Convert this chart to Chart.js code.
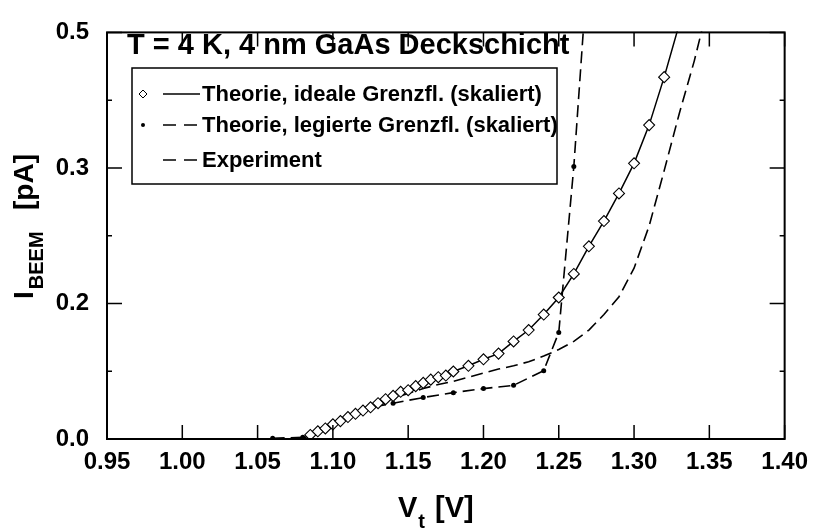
<!DOCTYPE html>
<html>
<head>
<meta charset="utf-8">
<script src="https://cdn.jsdelivr.net/npm/chart.js@4.4.1/dist/chart.umd.min.js"></script>
<style>
  html, body { margin: 0; padding: 0; background: #fff; }
  #wrap { width: 817px; height: 530px; }
</style>
</head>
<body>
<div id="wrap"><canvas id="chart-beem" width="817" height="530"></canvas></div>
<script>
const FONT = "'Liberation Sans', Arial, Helvetica, sans-serif";

// Theorie, ideale Grenzfläche (skaliert): V_t [V], I_BEEM [pA]
const idealV = [1.085, 1.09, 1.095, 1.10, 1.105, 1.11, 1.115, 1.12, 1.125, 1.13,
  1.135, 1.14, 1.145, 1.15, 1.155, 1.16, 1.165, 1.17, 1.175, 1.18,
  1.19, 1.20, 1.21, 1.22, 1.23, 1.24, 1.25, 1.26, 1.27, 1.28,
  1.29, 1.30, 1.31, 1.32, 1.33];
const idealI = [0.005, 0.0095, 0.013, 0.018, 0.022, 0.027, 0.031, 0.035, 0.039, 0.044,
  0.049, 0.053, 0.058, 0.060, 0.065, 0.069, 0.073, 0.076, 0.078, 0.083,
  0.090, 0.098, 0.105, 0.120, 0.134, 0.153, 0.174, 0.203, 0.237, 0.268,
  0.302, 0.339, 0.386, 0.445, 0.51];

// Theorie, legierte Grenzfläche (skaliert)
const alloyV = [1.06, 1.08, 1.10, 1.12, 1.14, 1.16, 1.18, 1.20, 1.22, 1.24, 1.25, 1.26, 1.27];
const alloyI = [0.001, 0.002, 0.021, 0.037, 0.044, 0.051, 0.057, 0.062, 0.066, 0.084, 0.131, 0.335, 0.60];

// Experiment
const exptV = [1.08, 1.09, 1.10, 1.11, 1.12, 1.13, 1.14, 1.15, 1.16, 1.17,
  1.18, 1.19, 1.20, 1.21, 1.22, 1.23, 1.24, 1.25, 1.26, 1.27,
  1.28, 1.29, 1.30, 1.31, 1.32, 1.33, 1.34, 1.35];
const exptI = [0.001, 0.008, 0.018, 0.027, 0.036, 0.043, 0.050, 0.056, 0.062, 0.067,
  0.071, 0.076, 0.081, 0.086, 0.090, 0.095, 0.102, 0.110, 0.120, 0.134,
  0.153, 0.175, 0.210, 0.262, 0.330, 0.400, 0.465, 0.540];

const xTicks = [0.95, 1.00, 1.05, 1.10, 1.15, 1.20, 1.25, 1.30, 1.35, 1.40];
const xTickLabels = ["0.95", "1.00", "1.05", "1.10", "1.15", "1.20", "1.25", "1.30", "1.35", "1.40"];
const yTicks = [0, 0.0833, 0.1667, 0.25, 0.3333, 0.4167, 0.5];
const yTickLabels = ["0.0", "", "0.2", "", "0.3", "", "0.5"];

const titleText = "T = 4 K, 4 nm GaAs Deckschicht";
const legendLabels = [
  "Theorie, ideale Grenzfl. (skaliert)",
  "Theorie, legierte Grenzfl. (skaliert)",
  "Experiment",
];

function pts(xs, ys) {
  return xs.map((x, i) => ({ x: x, y: ys[i] }));
}

// frame box with inward ticks on all four sides
const frameTicks = {
  id: "frameTicks",
  afterDatasetsDraw(chart) {
    const { ctx, chartArea: a, scales } = chart;
    const x = scales.x, y = scales.y;
    ctx.save();
    ctx.strokeStyle = "#000";
    ctx.lineWidth = 1.5;
    ctx.beginPath();
    x.ticks.forEach((t) => {
      const px = x.getPixelForValue(t.value);
      ctx.moveTo(px, a.bottom); ctx.lineTo(px, a.bottom - 14);
      ctx.moveTo(px, a.top); ctx.lineTo(px, a.top + 14);
    });
    y.ticks.forEach((t, i) => {
      const len = yTickLabels[i] ? 15 : 5;
      const py = y.getPixelForValue(t.value);
      ctx.moveTo(a.left, py); ctx.lineTo(a.left + len, py);
      ctx.moveTo(a.right, py); ctx.lineTo(a.right - len, py);
    });
    ctx.stroke();
    ctx.lineWidth = 2;
    ctx.strokeRect(a.left, a.top, a.right - a.left, a.bottom - a.top);
    ctx.restore();
  },
};

// title inside the plot, legend box and axis titles with subscripts
const annotations = {
  id: "annotations",
  afterDraw(chart) {
    const ctx = chart.ctx;
    ctx.save();
    ctx.fillStyle = "#000";
    ctx.strokeStyle = "#000";

    ctx.font = "bold 29px " + FONT;
    ctx.textBaseline = "alphabetic";
    ctx.textAlign = "left";
    ctx.fillText(titleText, 127, 54);

    // legend
    ctx.fillStyle = "#fff";
    ctx.fillRect(132, 68, 425, 116);
    ctx.lineWidth = 1.5;
    ctx.strokeRect(132, 68, 425, 116);
    const rows = [94, 125, 160];
    ctx.lineWidth = 1.5;
    // row 1: diamond + solid
    ctx.beginPath();
    ctx.moveTo(143, rows[0] - 4); ctx.lineTo(147, rows[0]);
    ctx.lineTo(143, rows[0] + 4); ctx.lineTo(139, rows[0]); ctx.closePath();
    ctx.fillStyle = "#fff"; ctx.fill();
    ctx.lineWidth = 1; ctx.stroke();
    ctx.lineWidth = 1.5;
    ctx.beginPath(); ctx.moveTo(163, rows[0]); ctx.lineTo(200, rows[0]); ctx.stroke();
    // row 2: dot + dashed
    ctx.fillStyle = "#000";
    ctx.beginPath(); ctx.arc(143, rows[1], 2, 0, Math.PI * 2); ctx.fill();
    ctx.setLineDash([13, 8]);
    ctx.beginPath(); ctx.moveTo(163, rows[1]); ctx.lineTo(198, rows[1]); ctx.stroke();
    // row 3: dashed
    ctx.beginPath(); ctx.moveTo(163, rows[2]); ctx.lineTo(198, rows[2]); ctx.stroke();
    ctx.setLineDash([]);

    ctx.font = "bold 22px " + FONT;
    ctx.textBaseline = "middle";
    legendLabels.forEach((t, i) => ctx.fillText(t, 202, rows[i] + 1));

    // x axis title: V_t [V]
    ctx.textBaseline = "alphabetic";
    ctx.font = "bold 29px " + FONT;
    ctx.fillText("V", 398, 517);
    const wV = ctx.measureText("V").width;
    ctx.font = "bold 20px " + FONT;
    ctx.fillText("t", 398 + wV + 1, 528);
    ctx.font = "bold 29px " + FONT;
    ctx.fillText("[V]", 435, 517);

    // y axis title: I_BEEM [pA]
    ctx.save();
    ctx.translate(33, 299);
    ctx.rotate(-Math.PI / 2);
    ctx.font = "bold 28px " + FONT;
    ctx.fillText("I", 0, 0);
    const wI = ctx.measureText("I").width;
    ctx.font = "bold 20px " + FONT;
    ctx.fillText("BEEM", wI + 2, 10);
    ctx.font = "bold 28px " + FONT;
    ctx.fillText("[pA]", 89, 0);
    ctx.restore();

    ctx.restore();
  },
};

new Chart(document.getElementById("chart-beem"), {
  type: "line",
  data: {
    datasets: [
      {
        label: legendLabels[0],
        data: pts(idealV, idealI),
        borderColor: "#000",
        borderWidth: 1.5,
        pointStyle: "rectRot",
        pointRadius: 5.5,
        pointBackgroundColor: "#fff",
        pointBorderColor: "#000",
        pointBorderWidth: 1.1,
        clip: 1,
      },
      {
        label: legendLabels[1],
        data: pts(alloyV, alloyI),
        borderColor: "#000",
        borderWidth: 1.6,
        borderDash: [12, 6],
        pointStyle: "circle",
        pointRadius: 2.5,
        pointBackgroundColor: "#000",
        pointBorderWidth: 0,
        clip: 1,
      },
      {
        label: legendLabels[2],
        data: pts(exptV, exptI),
        borderColor: "#000",
        borderWidth: 1.6,
        borderDash: [12, 6],
        pointRadius: 0,
        clip: 1,
      },
    ],
  },
  options: {
    responsive: false,
    animation: false,
    devicePixelRatio: 1,
    layout: { padding: { top: 17, right: 27, left: 0, bottom: 0 } },
    plugins: { legend: { display: false }, tooltip: { enabled: false } },
    scales: {
      x: {
        type: "linear",
        min: 0.95,
        max: 1.40,
        afterBuildTicks: (s) => { s.ticks = xTicks.map((v) => ({ value: v })); },
        afterFit: (s) => { s.height = 91; },
        ticks: {
          callback: (v, i) => xTickLabels[i],
          font: { family: FONT, size: 24, weight: "bold" },
          color: "#000",
          padding: 9,
          maxRotation: 0,
          autoSkip: false,
        },
        grid: { display: false, drawTicks: false },
        border: { display: false },
      },
      y: {
        min: 0,
        max: 0.5,
        afterBuildTicks: (s) => { s.ticks = yTicks.map((v) => ({ value: v })); },
        afterFit: (s) => { s.width = 107; },
        ticks: {
          callback: (v, i) => yTickLabels[i],
          font: { family: FONT, size: 24, weight: "bold" },
          color: "#000",
          padding: 18,
          autoSkip: false,
        },
        grid: { display: false, drawTicks: false },
        border: { display: false },
      },
    },
  },
  plugins: [frameTicks, annotations],
});
</script>
</body>
</html>
